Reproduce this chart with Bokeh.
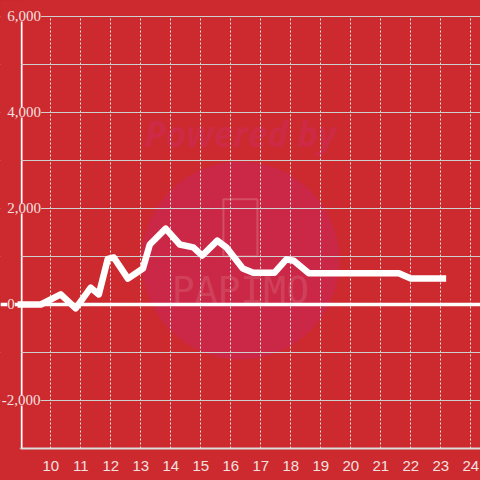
from bokeh.plotting import figure
from bokeh.models import (FixedTicker, SingleIntervalTicker, Span, LabelSet,
                          ColumnDataSource, Range1d, BoxAnnotation)
from bokeh.core.properties import value
from bokeh.embed import file_html
from bokeh.resources import INLINE

# ---- data (hours of day vs value) ----
hours = [9.0, 9.67, 10.33, 10.83, 11.33, 11.6, 11.9, 12.1, 12.57, 13.07, 13.3,
         13.83, 14.3, 14.75, 15.05, 15.55, 15.85, 16.4, 16.75, 17.45, 17.85,
         18.1, 18.6, 21.6, 22.0, 23.07]
values = [0, 0, 210, -80, 350, 210, 950, 980, 540, 750, 1250,
          1580, 1250, 1190, 1020, 1330, 1190, 750, 660, 660, 940,
          910, 650, 650, 540, 540]

x_ticks = list(range(10, 25))
y_label_values = [-2000, 0, 2000, 4000, 6000]
y_label_texts = ["-2,000", "0", "2,000", "4,000", "6,000"]

X_START, X_END = 8.323, 24.323
AXIS_X = 9
Y_START, Y_MAX, Y_END = -3000, 6000, 6333

# watermark (decoration)
wm_x, wm_circle_y, wm_text_y, wm_logo_y, wm_brand_y = 16.32, 917, 3560, 1600, 300

BG = "#cc2a2e"
TXT = "#f3e1e1"

p = figure(width=480, height=480, output_backend="svg", toolbar_location=None,
           x_range=Range1d(X_START, X_END), y_range=Range1d(Y_START, Y_END),
           y_axis_location=None, min_border_left=0, min_border_right=0,
           min_border_top=0, min_border_bottom=32)
p.background_fill_color = BG
p.border_fill_color = BG
p.outline_line_color = None

# watermark
p.scatter(x=[wm_x], y=[wm_circle_y], size=198, marker="circle",
          fill_color="#cb2848", line_color=None, level="image")
p.text(x=[wm_x], y=[wm_text_y], text=["Powered by"], text_align="center",
       text_baseline="middle", text_font=value("Open Sans"),
       text_font_style="bold italic", text_font_size="35px",
       text_color="#cd2a45", level="image")
p.rect(x=[wm_x], y=[wm_logo_y], width=34, height=57, width_units="screen",
       height_units="screen", fill_color=None, line_color="#d5566a",
       line_width=2, line_alpha=0.8, level="image")
p.text(x=[wm_x], y=[wm_brand_y], text=["PAPIMO"], text_align="center",
       text_baseline="middle", text_font=value("DejaVu Sans Mono"),
       text_font_size="38px", text_color="#d5566a", text_alpha=0.55,
       level="image")

# grids
p.xgrid.ticker = FixedTicker(ticks=x_ticks)
p.xgrid.grid_line_color = "#e6e6e6"
p.xgrid.grid_line_dash = "2 2"
p.xgrid.grid_line_width = 1
p.ygrid.ticker = SingleIntervalTicker(interval=1000)
p.ygrid.grid_line_color = "#cfcfcf"
p.ygrid.grid_line_width = 1

# x axis
p.xaxis.ticker = FixedTicker(ticks=x_ticks)
p.xaxis.bounds = (AXIS_X, X_END)
p.xaxis.axis_line_color = "#dcdcdc"
p.xaxis.axis_line_width = 2
p.xaxis.major_tick_line_color = None
p.xaxis.minor_tick_line_color = None
p.xaxis.major_label_text_color = TXT
p.xaxis.major_label_text_font = "Liberation Sans"
p.xaxis.major_label_text_font_size = "15px"
p.xaxis.major_label_standoff = 6

# hide grid outside the plotting area (left of y axis, above 6000)
p.add_layout(BoxAnnotation(left=X_START, right=AXIS_X, fill_color=BG,
                           fill_alpha=1, line_color=None, level="underlay"))
p.add_layout(BoxAnnotation(bottom=Y_MAX + 12, top=Y_END, fill_color=BG,
                           fill_alpha=1, line_color=None, level="underlay"))
# zero line
p.add_layout(Span(location=0, dimension="width", line_color="white",
                  line_width=3.5, level="underlay"))
# y axis bar
p.segment(x0=[AXIS_X], y0=[Y_START], x1=[AXIS_X], y1=[Y_MAX],
          line_color="white", line_width=3.5, level="underlay")

# data line
p.line(hours, values, line_color="white", line_width=6.5, line_join="round",
       line_cap="square")

# y labels (left aligned, with background)
offsets = [-19 if t.startswith("-") else -13.5 for t in y_label_texts]
src = ColumnDataSource(dict(x=[AXIS_X] * len(y_label_values), y=y_label_values,
                            text=y_label_texts, xo=offsets))
p.add_layout(LabelSet(x="x", y="y", text="text", x_offset="xo", source=src,
                      text_align="left", text_baseline="middle",
                      text_font="Liberation Sans", text_font_size="15px",
                      text_color=TXT, background_fill_color=BG))

html = file_html(p, INLINE)
html = html.replace("</head>", "<style>html,body{background:#cc2a2e;}</style></head>", 1)
open("out.html", "w").write(html)
